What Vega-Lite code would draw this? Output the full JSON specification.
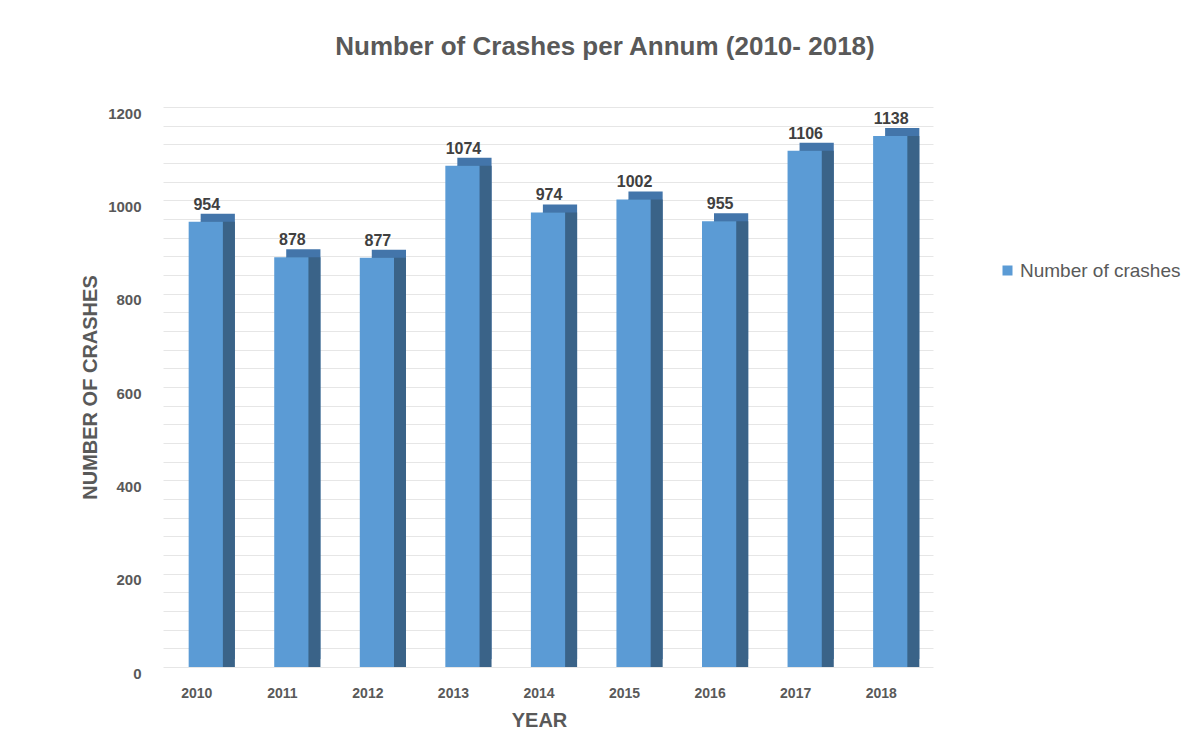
{
  "$schema": "https://vega.github.io/schema/vega-lite/v6.json",
  "autosize": "none",
  "width": 770,
  "height": 560,
  "padding": {"left": 163, "top": 107, "right": 254, "bottom": 77},
  "background": "white",
  "title": {
    "text": "Number of Crashes per Annum (2010- 2018)",
    "font": "Liberation Sans",
    "fontSize": 26,
    "fontWeight": "bold",
    "color": "#595959",
    "anchor": "middle",
    "dx": 57,
    "offset": 46
  },
  "data": {
    "values": [
      {"year": "2010", "crashes": 954, "series": "Number of crashes"},
      {"year": "2011", "crashes": 878, "series": "Number of crashes"},
      {"year": "2012", "crashes": 877, "series": "Number of crashes"},
      {"year": "2013", "crashes": 1074, "series": "Number of crashes"},
      {"year": "2014", "crashes": 974, "series": "Number of crashes"},
      {"year": "2015", "crashes": 1002, "series": "Number of crashes"},
      {"year": "2016", "crashes": 955, "series": "Number of crashes"},
      {"year": "2017", "crashes": 1106, "series": "Number of crashes"},
      {"year": "2018", "crashes": 1138, "series": "Number of crashes"}
    ]
  },
  "encoding": {
    "x": {
      "field": "year",
      "type": "ordinal",
      "scale": {"paddingInner": 0.6, "paddingOuter": 0.3},
      "axis": {
        "title": "YEAR",
        "labelAngle": 0,
        "labelFont": "Liberation Sans",
        "labelFontSize": 14,
        "labelFontWeight": "bold",
        "labelColor": "#595959",
        "labelPadding": 19,
        "labelOffset": -9,
        "titleFont": "Liberation Sans",
        "titleFontSize": 20,
        "titleFontWeight": "bold",
        "titleColor": "#595959",
        "titlePadding": 10,
        "titleX": 376,
        "domain": false,
        "ticks": false
      }
    },
    "y": {
      "field": "crashes",
      "type": "quantitative",
      "scale": {"domain": [0, 1200], "nice": false},
      "axis": {
        "title": "NUMBER OF CRASHES",
        "values": [0,40,80,120,160,200,240,280,320,360,400,440,480,520,560,600,640,680,720,760,800,840,880,920,960,1000,1040,1080,1120,1160,1200],
        "labelExpr": "datum.value % 200 === 0 ? datum.label : ''",
        "format": "d",
        "labelFont": "Liberation Sans",
        "labelFontSize": 15,
        "labelFontWeight": "bold",
        "labelColor": "#595959",
        "labelPadding": 22,
        "labelOffset": 6,
        "titleFont": "Liberation Sans",
        "titleFontSize": 20,
        "titleFontWeight": "bold",
        "titleColor": "#595959",
        "titlePadding": 7,
        "domain": false,
        "ticks": false,
        "grid": true,
        "gridColor": "#e6e6e6",
        "gridWidth": 1
      }
    }
  },
  "layer": [
    {
      "mark": {"type": "bar", "color": "#4375aa", "xOffset": 12, "yOffset": -8},
      "encoding": {}
    },
    {
      "mark": {"type": "bar", "color": "#3a6388", "xOffset": 12},
      "encoding": {}
    },
    {
      "mark": {"type": "bar"},
      "encoding": {
        "color": {
          "field": "series",
          "type": "nominal",
          "scale": {"range": ["#5b9bd5"]},
          "legend": {
            "title": null,
            "orient": "none",
            "legendX": 835,
            "legendY": 154,
            "symbolType": "square",
            "symbolSize": 100,
            "symbolStrokeWidth": 0,
            "labelOffset": 3,
            "labelFont": "Liberation Sans",
            "labelFontSize": 19,
            "labelColor": "#595959",
            "labelLimit": 400
          }
        }
      }
    },
    {
      "mark": {
        "type": "text",
        "font": "Liberation Sans",
        "fontSize": 16,
        "fontWeight": "bold",
        "color": "#404040",
        "dy": -9,
        "dx": 1,
        "baseline": "bottom"
      },
      "encoding": {"text": {"field": "crashes", "type": "quantitative"}}
    }
  ],
  "config": {"view": {"stroke": null}}
}
